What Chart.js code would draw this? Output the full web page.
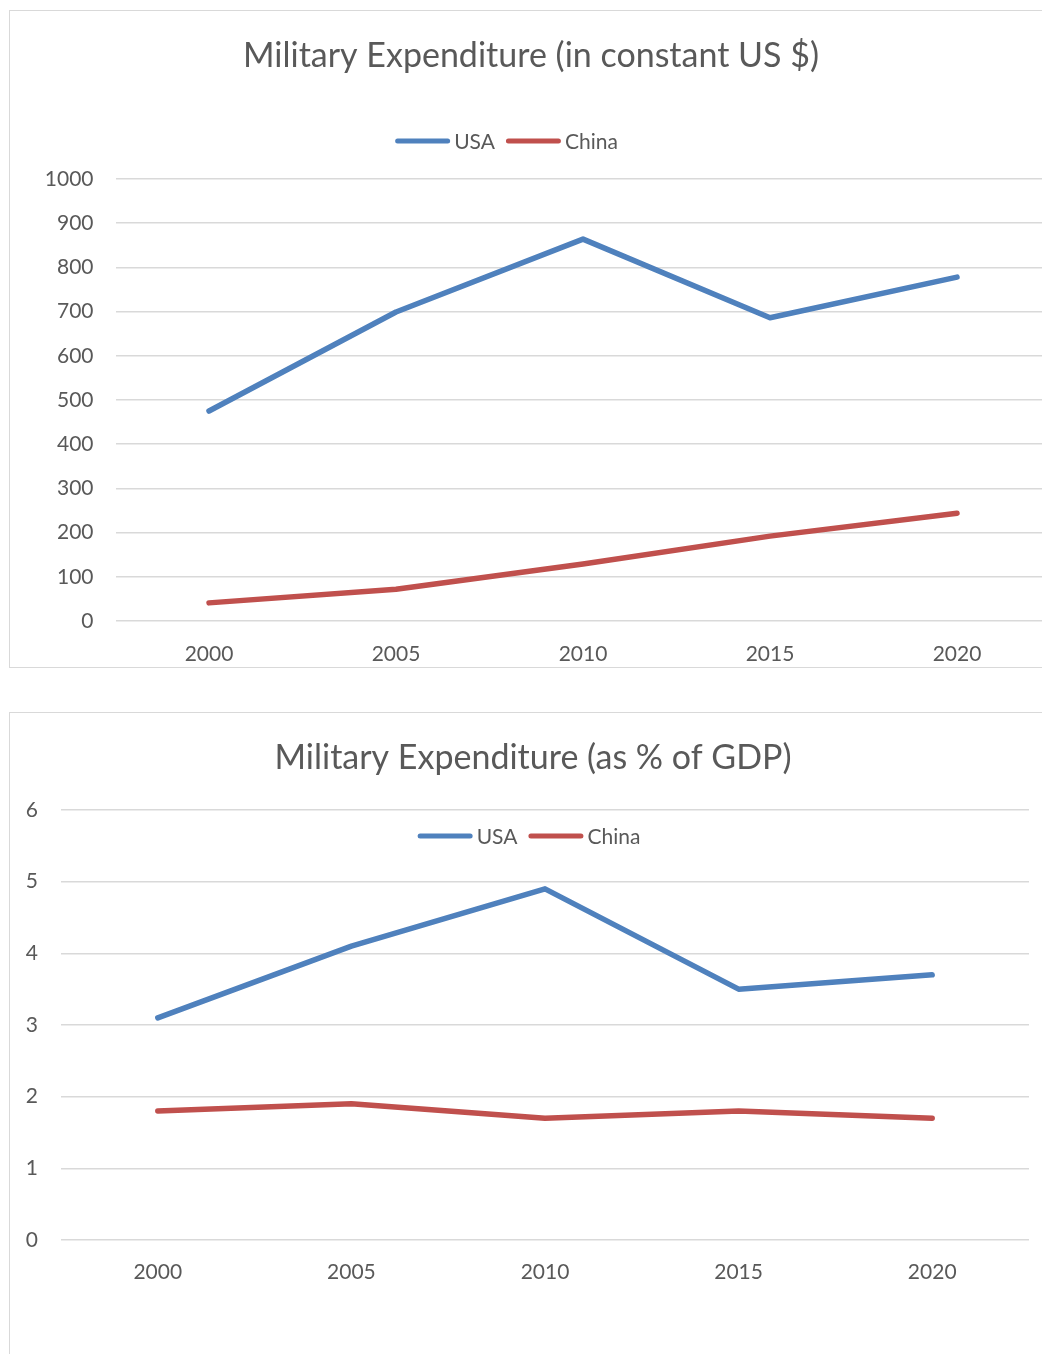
<!DOCTYPE html>
<html>
<head>
<meta charset="utf-8">
<script src="https://cdn.jsdelivr.net/npm/chart.js@4.4.1/dist/chart.umd.min.js"></script>
<style>
  body { margin: 0; background: #fff; overflow: hidden; width: 1042px; height: 1354px; }
  .box { position: absolute; border: 1px solid #d9d9d9; background: #fff; }
  canvas { display: block; }
</style>
</head>
<body>
<div class="box" style="left:9px; top:10px;">
  <canvas id="spendChart" width="1042" height="656"></canvas>
</div>
<div class="box" style="left:9px; top:712px;">
  <canvas id="gdpChart" width="1046" height="700"></canvas>
</div>
<script>
// data
const years = ['2000', '2005', '2010', '2015', '2020'];
const usaSpend = [475, 699, 864, 686, 778];
const chinaSpend = [41, 72, 129, 192, 244];
const usaGdp = [3.1, 4.1, 4.9, 3.5, 3.7];
const chinaGdp = [1.8, 1.9, 1.7, 1.8, 1.7];
const seriesNames = ['USA', 'China'];

const blue = '#4f81bd';
const red = '#c0504d';
const textGrey = '#595959';
const gridGrey = '#d9d9d9';
const fontName = 'Lato';

// legend drawn as short thick lines, can sit over the plot
const lineLegend = {
  id: 'lineLegend',
  afterDraw(chart, args, opts) {
    const ctx = chart.ctx;
    ctx.save();
    ctx.font = '21px ' + fontName;
    ctx.textBaseline = 'middle';
    const seg = 55, txtGap = 4, itemGap = 11;
    const items = chart.data.datasets.map(d => ({ d: d, w: seg + txtGap + ctx.measureText(d.label).width }));
    let total = items.reduce((a, it) => a + it.w, 0) + itemGap * (items.length - 1);
    let x = opts.cx - total / 2;
    items.forEach(it => {
      ctx.strokeStyle = it.d.borderColor;
      ctx.lineWidth = 5;
      ctx.lineCap = 'round';
      ctx.beginPath();
      ctx.moveTo(x + 2.5, opts.y);
      ctx.lineTo(x + seg - 2.5, opts.y);
      ctx.stroke();
      ctx.fillStyle = textGrey;
      ctx.fillText(it.d.label, x + seg + txtGap, opts.y + 1);
      x += it.w + itemGap;
    });
    ctx.restore();
  }
};

function makeChart(id, title, usa, china, yMax, yStep, lay) {
  return new Chart(document.getElementById(id), {
    type: 'line',
    data: {
      labels: years,
      datasets: [
        { label: seriesNames[0], data: usa, borderColor: blue, backgroundColor: blue },
        { label: seriesNames[1], data: china, borderColor: red, backgroundColor: red }
      ]
    },
    options: {
      responsive: false,
      animation: false,
      elements: {
        line: { borderWidth: 5.5, tension: 0, borderCapStyle: 'round', borderJoinStyle: 'round' },
        point: { radius: 0, hoverRadius: 0 }
      },
      layout: { padding: { left: 0, top: 0, right: 0, bottom: lay.bottom } },
      plugins: {
        legend: { display: false },
        tooltip: { enabled: false },
        title: {
          display: true,
          text: title,
          color: textGrey,
          font: { family: fontName, size: 34, weight: 'normal', lineHeight: 1.2 },
          padding: { top: lay.titleTop, bottom: lay.titleBottom }
        },
        lineLegend: { cx: lay.legendX, y: lay.legendY }
      },
      scales: {
        x: {
          offset: true,
          grid: { display: false },
          border: { display: false },
          ticks: { color: textGrey, font: { family: fontName, size: 21 }, padding: lay.xPad },
          afterFit: s => { s.height = lay.xHeight; }
        },
        y: {
          min: 0,
          max: yMax,
          ticks: {
            stepSize: yStep, color: textGrey, font: { family: fontName, size: 21 }, padding: lay.yPad,
            callback: v => String(v)
          },
          grid: { color: gridGrey, lineWidth: 1.5, drawTicks: false },
          border: { display: false },
          afterFit: s => { s.width = lay.yWidth; }
        },
        // empty strip on the right, keeps the plot off the right edge
        gap: {
          position: 'right',
          grid: { display: false },
          border: { display: false },
          ticks: { display: false },
          afterFit: s => { s.width = lay.right; }
        }
      }
    },
    plugins: [lineLegend]
  });
}

makeChart('spendChart', 'Military Expenditure (in constant US $)', usaSpend, chinaSpend, 1000, 100, {
  right: 1.5, bottom: 0, titleTop: 25, titleBottom: 102.2,
  legendX: 496.5, legendY: 130, xHeight: 46, yWidth: 105.5, yPad: 22, xPad: 13
});

makeChart('gdpChart', 'Military Expenditure (as % of GDP)', usaGdp, chinaGdp, 6, 1, {
  right: 27, bottom: 130, titleTop: 25, titleBottom: 31.2,
  legendX: 519, legendY: 123, xHeight: 43, yWidth: 51, yPad: 23, xPad: 12
});
</script>
</body>
</html>
